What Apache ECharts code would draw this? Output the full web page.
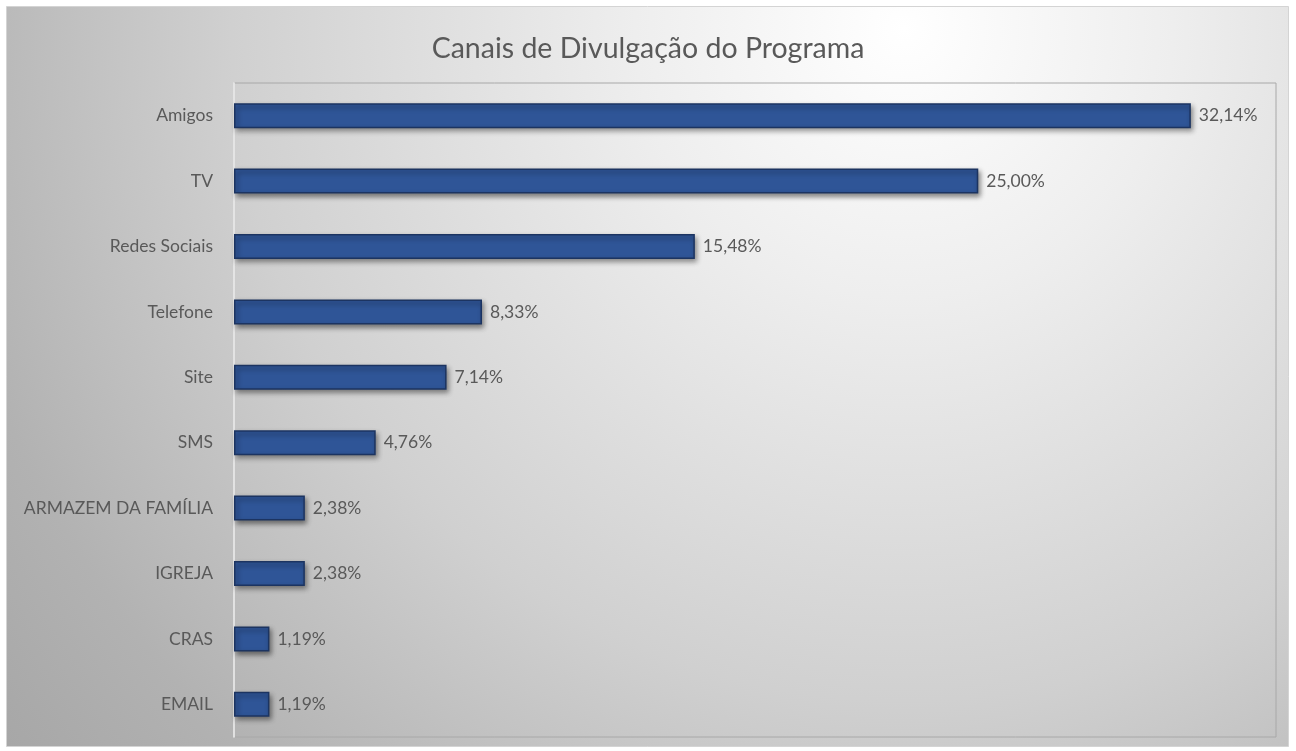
<!DOCTYPE html>
<html>
<head>
<meta charset="utf-8">
<script src="https://cdn.jsdelivr.net/npm/echarts@6/dist/echarts.min.js"></script>
<style>
html,body{margin:0;padding:0;background:#fff;}
#main{width:1296px;height:751px;}
</style>
</head>
<body>
<div id="main"></div>
<script>
const titleText = 'Canais de Divulgação do Programa';
const categories = ['Amigos','TV','Redes Sociais','Telefone','Site','SMS','ARMAZEM DA FAMÍLIA','IGREJA','CRAS','EMAIL'];
const values = [32.14, 25.00, 15.48, 8.33, 7.14, 4.76, 2.38, 2.38, 1.19, 1.19];
const axisMin = 0;
const axisMax = 35;

const FONT = 'Lato, "Open Sans", sans-serif';
const chart = echarts.init(document.getElementById('main'), null, {renderer:'canvas'});
chart.setOption({
  backgroundColor: '#ffffff',
  animation: false,
  graphic: [{
    type: 'rect',
    z: -10,
    silent: true,
    shape: {x: 6.5, y: 6.5, width: 1282, height: 740},
    style: {
      fill: {
        type: 'radial', x: 0.7, y: 0.03, r: 1.65,
        colorStops: [
          {offset: 0, color: '#ffffff'},
          {offset: 0.22, color: '#eeeeee'},
          {offset: 0.55, color: '#d0d0d0'},
          {offset: 0.8, color: '#b2b2b2'},
          {offset: 1, color: '#a2a2a2'}
        ]
      },
      stroke: '#d4d4d4',
      lineWidth: 1
    }
  }],
  title: {
    text: titleText,
    left: 'center',
    top: 29,
    textStyle: {fontFamily: FONT, fontSize: 28.5, fontWeight: 'normal', color: '#595959'}
  },
  grid: {left: 234, right: 20, top: 83, bottom: 14, show: true, borderColor: '#a8a8a8', borderWidth: 1, backgroundColor: 'transparent'},
  xAxis: {
    type: 'value', min: axisMin, max: axisMax,
    axisLabel: {show: false}, axisLine: {show: false}, axisTick: {show: false}, splitLine: {show: false}
  },
  yAxis: {
    type: 'category', inverse: true, data: categories,
    axisLine: {show: true, lineStyle: {color: '#f2f2f2', width: 1.5}},
    axisTick: {show: false},
    axisLabel: {margin: 21, fontFamily: FONT, fontSize: 17.5, color: '#595959'}
  },
  series: [{
    type: 'bar',
    data: values,
    barWidth: 25,
    itemStyle: {
      color: '#2F5597',
      borderColor: '#1c3461',
      borderWidth: 1.5,
      shadowColor: 'rgba(0,0,0,0.45)',
      shadowBlur: 5,
      shadowOffsetX: 2,
      shadowOffsetY: 3
    },
    label: {
      show: true, position: 'right', distance: 8,
      fontFamily: FONT, fontSize: 17.5, color: '#595959',
      formatter: p => p.value.toFixed(2).replace('.', ',') + '%'
    }
  }]
});
</script>
</body>
</html>
